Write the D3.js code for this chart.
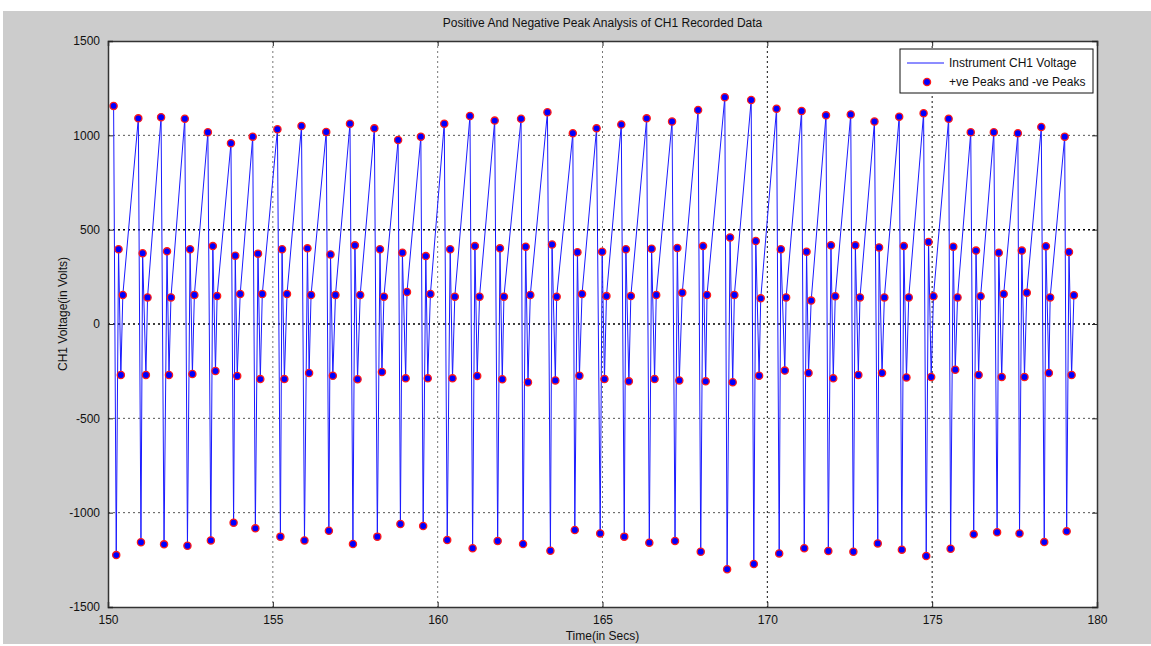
<!DOCTYPE html>
<html lang="en">
  <head>
    <meta charset="utf-8">
    <title>Positive And Negative Peak Analysis of CH1 Recorded Data</title>
    <script src="https://cdnjs.cloudflare.com/ajax/libs/d3/7.8.5/d3.min.js"></script>
    <style>
      body { margin: 0; background: #fff; }
      text { font-family: "Liberation Sans", Arial, sans-serif; fill: #111; }
    </style>
  </head>
  <body>
    <div class="chart"></div>
    <script>

      // peaks of each beat (time in secs, voltage in volts)
      var posPeakT = [150.17,150.92,151.61,152.33,153.03,153.73,154.39,155.14,155.87,156.62,157.34,158.08,158.80,159.49,160.20,160.98,161.73,162.53,163.33,164.10,164.82,165.57,166.34,167.11,167.90,168.71,169.51,170.28,171.04,171.78,172.53,173.25,174.00,174.74,175.50,176.17,176.87,177.60,178.31,179.02];
      var posPeakV = [1156,1090,1096,1088,1016,958,993,1032,1050,1018,1062,1037,975,993,1062,1103,1078,1088,1122,1011,1037,1057,1090,1073,1134,1202,1187,1141,1129,1106,1111,1073,1099,1117,1088,1016,1016,1011,1044,993];

      var negPeakT = [150.25,151.00,151.70,152.41,153.12,153.81,154.47,155.23,155.96,156.70,157.43,158.17,158.87,159.56,160.29,161.06,161.82,162.59,163.42,164.16,164.93,165.66,166.42,167.20,167.98,168.78,169.59,170.36,171.12,171.85,172.61,173.35,174.08,174.82,175.56,176.26,176.97,177.65,178.40,179.08];
      var negPeakV = [-1225,-1157,-1168,-1175,-1147,-1053,-1083,-1127,-1147,-1096,-1166,-1127,-1060,-1071,-1145,-1189,-1150,-1166,-1202,-1092,-1110,-1127,-1159,-1150,-1207,-1300,-1272,-1216,-1189,-1203,-1207,-1163,-1196,-1230,-1191,-1115,-1104,-1110,-1156,-1099];

      var hiPeakT = [150.32,151.05,151.79,152.49,153.18,153.86,154.55,155.28,156.05,156.75,157.49,158.25,158.93,159.64,160.38,161.13,161.89,162.67,163.47,164.24,164.99,165.71,166.49,167.27,168.05,168.87,169.65,170.41,171.19,171.93,172.67,173.39,174.14,174.89,175.64,176.33,177.02,177.72,178.45,179.15];
      var hiPeakV = [396,375,385,396,413,362,373,396,401,369,417,396,378,360,396,413,401,410,421,380,383,396,399,403,413,459,440,396,383,417,417,406,413,435,410,389,378,389,412,382];

      var loPeakT = [150.39,151.15,151.85,152.56,153.26,153.92,154.62,155.35,156.10,156.82,157.57,158.31,159.03,159.70,160.45,161.20,161.96,162.74,163.57,164.30,165.06,165.80,166.58,167.33,168.13,168.95,169.75,170.53,171.25,172.00,172.76,173.48,174.22,174.97,175.70,176.41,177.11,177.80,178.54,179.23];
      var loPeakV = [-270,-270,-270,-265,-249,-276,-292,-292,-260,-274,-293,-254,-288,-288,-288,-276,-293,-309,-299,-274,-292,-304,-292,-299,-304,-309,-274,-247,-260,-288,-270,-260,-283,-281,-242,-270,-281,-281,-260,-270];

      var smPeakT = [150.45,151.20,151.91,152.62,153.31,154.01,154.68,155.43,156.16,156.90,157.65,158.37,159.07,159.78,160.52,161.27,162.01,162.81,163.61,164.38,165.12,165.86,166.63,167.42,168.17,169.00,169.80,170.57,171.33,172.06,172.81,173.55,174.29,175.04,175.77,176.47,177.17,177.87,178.58,179.30];
      var smPeakV = [154,141,141,154,148,159,159,159,154,154,154,145,170,159,145,145,145,154,145,159,148,148,154,166,154,154,136,141,124,147,141,141,141,147,141,147,159,166,141,152];

      var xTicks = [150,155,160,165,170,175,180];
      var yTicks = [-1500,-1000,-500,0,500,1000,1500];

      var svgWidth = 1151;
      var svgHeight = 646;

      var margin = {
        top: 41,
        right: 54,
        bottom: 39,
        left: 108
      };

      var width = svgWidth - margin.left - margin.right;
      var height = svgHeight - margin.top - margin.bottom;

      var svg = d3.select(".chart")
        .append("svg")
        .attr("width", svgWidth)
        .attr("height", svgHeight);

      // grey figure background
      svg.append("rect")
        .attr("x", 3)
        .attr("y", 11)
        .attr("width", svgWidth - 3)
        .attr("height", 633)
        .attr("fill", "#cccccc");

      var chartGroup = svg.append("g")
        .attr("transform", `translate(${margin.left}, ${margin.top})`);

      chartGroup.append("rect")
        .attr("width", width)
        .attr("height", height)
        .attr("fill", "#fff");

      var xScale = d3.scaleLinear().domain([150, 180]).range([0, width]);
      var yScale = d3.scaleLinear().domain([-1500, 1500]).range([height, 0]);

      // merge all peaks in time order for the voltage trace
      var trace = [];
      posPeakT.forEach(function (t, i) {
        trace.push({ t: posPeakT[i], v: posPeakV[i] });
        trace.push({ t: negPeakT[i], v: negPeakV[i] });
        trace.push({ t: hiPeakT[i], v: hiPeakV[i] });
        trace.push({ t: loPeakT[i], v: loPeakV[i] });
        trace.push({ t: smPeakT[i], v: smPeakV[i] });
      });

      // dotted grid
      chartGroup.selectAll(".vgrid")
        .data(xTicks.slice(1, -1))
        .enter()
        .append("line")
        .attr("x1", d => xScale(d))
        .attr("x2", d => xScale(d))
        .attr("y1", 0)
        .attr("y2", height)
        .attr("stroke", d => d >= 170 ? "#111" : "#777")
        .attr("stroke-width", 1)
        .attr("stroke-dasharray", "2,3");

      chartGroup.selectAll(".hgrid")
        .data(yTicks.slice(1, -1))
        .enter()
        .append("line")
        .attr("x1", 0)
        .attr("x2", width)
        .attr("y1", d => yScale(d))
        .attr("y2", d => yScale(d))
        .attr("stroke", d => (d === 0 || d === 500) ? "#000" : "#555")
        .attr("stroke-width", d => (d === 0 || d === 500) ? 1.5 : 1)
        .attr("stroke-dasharray", "2,3");

      // voltage trace
      var line = d3.line()
        .x(d => xScale(d.t))
        .y(d => yScale(d.v));

      chartGroup.append("path")
        .datum(trace)
        .attr("fill", "none")
        .attr("stroke", "#1a1aff")
        .attr("stroke-width", 1)
        .attr("d", line);

      // peak markers
      chartGroup.selectAll("circle.peak")
        .data(trace)
        .enter()
        .append("circle")
        .attr("class", "peak")
        .attr("cx", d => xScale(d.t))
        .attr("cy", d => yScale(d.v))
        .attr("r", 3.6)
        .attr("fill", "#0000ff")
        .attr("stroke", "#ff1a1a")
        .attr("stroke-width", 1.3);

      // axes: inward ticks on every side, matlab style (plain hyphen for minus)
      var plain = d => String(d);
      var bottomAxis = d3.axisBottom(xScale).tickValues(xTicks).tickSize(-5).tickPadding(8).tickFormat(plain);
      var topAxis = d3.axisTop(xScale).tickValues(xTicks).tickSize(-5).tickFormat("");
      var leftAxis = d3.axisLeft(yScale).tickValues(yTicks).tickSize(-5).tickPadding(8).tickFormat(plain);
      var rightAxis = d3.axisRight(yScale).tickValues(yTicks).tickSize(-5).tickFormat("");

      chartGroup.append("g").attr("class", "axis")
        .attr("transform", `translate(0, ${height})`)
        .call(bottomAxis);
      chartGroup.append("g").attr("class", "axis").call(topAxis);
      chartGroup.append("g").attr("class", "axis").call(leftAxis);
      chartGroup.append("g").attr("class", "axis")
        .attr("transform", `translate(${width}, 0)`)
        .call(rightAxis);

      chartGroup.selectAll(".axis path").attr("stroke", "#333").attr("stroke-width", 1.5);
      chartGroup.selectAll(".axis line").attr("stroke", "#222");
      chartGroup.selectAll(".axis text")
        .attr("font-size", "12px")
        .attr("font-family", "'Liberation Sans', Arial, sans-serif")
        .attr("fill", "#111");

      // legend
      var legend = chartGroup.append("g")
        .attr("transform", `translate(${width - 197}, 8)`);

      legend.append("rect")
        .attr("width", 193)
        .attr("height", 44)
        .attr("fill", "#fff")
        .attr("stroke", "#111")
        .attr("stroke-width", 1);

      legend.append("line")
        .attr("x1", 7).attr("x2", 44)
        .attr("y1", 14).attr("y2", 14)
        .attr("stroke", "#1a1aff");

      legend.append("circle")
        .attr("cx", 27).attr("cy", 33)
        .attr("r", 3.6)
        .attr("fill", "#0000ff")
        .attr("stroke", "#ff1a1a")
        .attr("stroke-width", 1.3);

      legend.append("text")
        .attr("x", 49).attr("y", 18)
        .attr("font-size", "12px")
        .text("Instrument CH1 Voltage");

      legend.append("text")
        .attr("x", 49).attr("y", 37)
        .attr("font-size", "12px")
        .text("+ve Peaks and -ve Peaks");

      // title and axis labels
      svg.append("text")
        .attr("x", margin.left + width / 2)
        .attr("y", 27)
        .attr("text-anchor", "middle")
        .attr("font-size", "12px")
        .text("Positive And Negative Peak Analysis of CH1 Recorded Data");

      svg.append("text")
        .attr("transform", "rotate(-90)")
        .attr("x", -314)
        .attr("y", 67)
        .attr("text-anchor", "middle")
        .attr("font-size", "12px")
        .text("CH1 Voltage(in Volts)");

      svg.append("text")
        .attr("x", margin.left + width / 2)
        .attr("y", 640)
        .attr("text-anchor", "middle")
        .attr("font-size", "12px")
        .text("Time(in Secs)");
    </script>
  </body>
</html>
